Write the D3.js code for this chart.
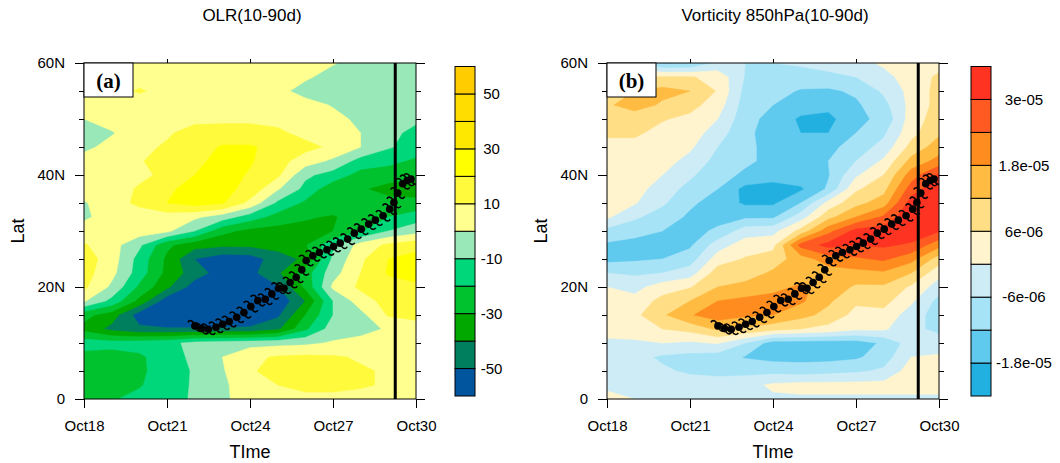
<!DOCTYPE html>
<html>
<head>
<meta charset="utf-8">
<script src="https://cdn.jsdelivr.net/npm/d3@7"></script>
<style>
  body { margin: 0; background: #fff; }
  svg { display: block; font-family: "Liberation Sans", Arial, Helvetica, sans-serif; }
</style>
</head>
<body>
<svg id="chart" width="1060" height="463"></svg>
<script>
// grid: days since Oct18 00Z (columns) x latitude (rows, north to south)
const gridDays = [0, 1, 2, 3, 4, 5, 6, 7, 8, 9, 10, 11, 12]
const gridLats = [60, 57.5, 55, 52.5, 50, 47.5, 45, 42.5, 40, 37.5, 35, 32.5, 30,
                  27.5, 25, 22.5, 20, 17.5, 15, 12.5, 10, 7.5, 5, 2.5, 0]

const timeTickDays = [0, 3, 6, 9, 12]
const timeTickLabels = ['Oct18', 'Oct21', 'Oct24', 'Oct27', 'Oct30']
const latMajor = [0, 20, 40, 60]
const latMajorLabels = ['0', '20N', '40N', '60N']
const latMinor = [5, 10, 15, 25, 30, 35, 45, 50, 55]

// OLR anomaly, W m-2
const olrLevels = [-50, -40, -30, -20, -10, 0, 10, 20, 30, 40, 50]
const olrColors = ['#00559e', '#007f5e', '#00a800', '#00c22e', '#00d67a', '#99e8b8',
                   '#ffff8f', '#fffa3c', '#ffff00', '#ffe800', '#ffdd00', '#ffcc00']
const olrBarLevels = [50, 30, 10, -10, -30, -50]
const olrBarLabels = ['50', '30', '10', '-10', '-30', '-50']
const olrGrid = [
  [  5,  5,  5,  5,  5,  5,  5,  5,  5,  1, -5, -5, -6],
  [  5,  5,  6,  6,  5,  5,  5,  4,  2, -5, -6, -6, -8],
  [  5,  6, 11,  7,  5,  5,  5,  4, -5, -6, -6, -6, -6],
  [  5,  5,  5,  5,  6,  6,  6,  5,  5, -1, -6, -7, -8],
  [  0,  5,  6,  7,  8,  8,  8,  7,  6,  4, -3, -7, -8],
  [ -5, -1,  7,  9, 13, 14, 14, 12,  7,  4,  0, -7,-13],
  [ -3,  4,  8, 11, 15, 21, 21, 17, 13,  8,  0, -9,-14],
  [  5,  6,  9, 15, 17, 24, 21, 14,  5, -2,-14,-17,-22],
  [  5,  6,  8, 12, 20, 24, 19, 12, -8,-14,-24,-26,-27],
  [  5,  6, 11, 18, 24, 23, 17,  1,-13,-27,-29,-33,-35],
  [ -1,  6, 12, 20, 24, 21,  7,-12,-22,-25,-26,-27,-27],
  [ -2,  5,  5,  5,  2, -5,-15,-24,-29,-31,-25,-20,-15],
  [  5,  6,  5,  2,-10,-27,-33,-34,-33,-30,-21,-10, -4],
  [ 11,  4, -8,-28,-36,-38,-38,-36,-31,-12,  4, 12, 16],
  [ 15,  5,-14,-32,-50,-56,-55,-45,-38, -8,  8, 20, 24],
  [ 14,  3,-15,-33,-45,-55,-53,-42,-25, -4, 10, 21, 24],
  [ 12, -2,-22,-38,-55,-58,-56,-51,-28,  2, 12, 16, 18],
  [  1,-13,-33,-56,-58,-58,-58,-58,-40,-10,  5, 14, 16],
  [-27,-35,-55,-60,-60,-60,-60,-52,-30,-10, -3, 11, 13],
  [-33,-43,-48,-49,-49,-49,-48,-42,-22, -5, -3,  1,  5],
  [-15,-16,-15,-13, -7, -5, -4, -3, -2,  1,  3,  4,  5],
  [-24,-25,-22,-14, -8,  0,  8, 11, 12, 11,  9,  6,  5],
  [-25,-26,-22,-15, -9, -1,  9, 13, 14, 13, 11,  9,  5],
  [-24,-25,-21,-14, -9, -2,  6, 10, 12, 12, 11,  9,  6],
  [-23,-21,-17,-13, -9, -2,  5,  7,  8,  8,  7,  6,  6]
]

// 850 hPa relative vorticity anomaly, in 1e-6 s-1
const vortLevels = [-18, -12, -6, 0, 6, 12, 18, 24, 30]
const vortColors = ['#22b0e0', '#5fc9ee', '#a7e3f7', '#cdecf6', '#fff4ce', '#ffde85',
                    '#ffbb42', '#ff8c1e', '#ff5a22', '#ff3322']
const vortBarLevels = [30, 18, 6, -6, -18]
const vortBarLabels = ['3e-05', '1.8e-05', '6e-06', '-6e-06', '-1.8e-05']
const vortGrid = [
  [ -2, -3,-13,-12.5, -5, -6, -6,  -5,  -3, -2,  1,  3,  4],
  [  2, 5.5, 6.5, 6.5,  4,-6.5, -8, -9, -8, -6, -2,  3,  7],
  [  9, 12, 14, 12, 5.5, -8,-10,-12.5,-13,-11, -5,  2,  8],
  [ 11, 15, 11,  8,  3, -9,-12, -15, -16,-13, -8,  2,  8],
  [  8,  8, 6.5, 4.5, 0,-10,-14, -19, -20,-13,-11,  3,  9],
  [  7,  7,  4,  3, -3,-11,-14, -18, -18,-12, -7,  4, 11],
  [  4,  4,  3,  1, -6,-11,-13.5,-15,-14, -9, -4,  8, 15],
  [  3, 3.5, 2.5, -2, -8,-11,-13.5,-13,-12, -6,  1, 14, 20],
  [  3,  3,  0, -5,-10,-13,-15, -14,-12.5,-1,  6, 21, 31],
  [  2, 2.5, -3, -8,-12,-20,-21, -19, -11,  5, 10, 27, 34],
  [  2, 0.5, -5,-11,-14.5,-19,-19,-12,  2, 10, 15, 33, 35],
  [  1, -5, -9,-13,-14,-13,-13,  -3,  10, 18, 25, 35, 35],
  [ -8,-10,-12,-14,-11, -3, -2,   8,  22, 32, 33, 34, 30.5],
  [-13,-14,-14,-13, -3,  3,  4,  26,  32, 30, 31, 29, 20],
  [-14,-13,-12, -9,  3, 6.5, 9,  15,  21, 23, 25, 20,  9],
  [ -6, -7, -6, -3,  9,  9, 13,  15,  15, 16, 17, 12,  2],
  [  0, -2,  3, 5.5, 12, 14, 16,  19,  16, 11, 11,  5, -3],
  [  2,  2,  8, 12, 18, 19.5, 20.5, 19, 13,  7,  8,  1, -8],
  [  3, 4.5, 11, 17.5, 21, 19, 18, 14,  10,  4,  4, -3, -9],
  [  2,  3,  6,  8, 13, 11,  8,   6,   4,  1,  1, -5, -7],
  [ -1, -1,  0, -1, 0.5, -6,-15, -15, -15,-15,-11, -3, -4],
  [ -3, -4, -7, -8, -9,-12.5,-14,-14, -14,-13, -9,  0,  1],
  [ -3, -4, -5, -7, -8, -8, -8,  -9,  -8, -7, -5,  3,  3],
  [-1.5,-3, -3, -3, -3, -2,  1,   2,   2,  2,  2,  2,  2],
  [  2,  0, -1, -1, -1, -1, -1,  -1,  -1, -1, -1, -1, -1]
]

// typhoon track, 6-hourly (days since Oct18, latitude)
const trackDay = [4.01, 4.25, 4.49, 4.77, 5.01, 5.25, 5.52, 5.78, 6.03, 6.28, 6.55, 6.79,
                  7.03, 7.23, 7.45, 7.67, 7.87, 8.03, 8.27, 8.51, 8.78, 9.02, 9.26, 9.53,
                  9.77, 10.02, 10.29, 10.53, 10.81, 11.05, 11.2, 11.34, 11.52, 11.68, 11.82]
const trackLat = [13.05, 12.57, 12.46, 12.81, 13.35, 13.83, 14.6, 15.43, 16.5, 17.58, 17.82, 18.77,
                  19.79, 19.79, 20.8, 21.75, 23.06, 24.73, 25.57, 26.16, 26.64, 27.23, 27.83, 28.55,
                  29.62, 30.33, 31.23, 31.94, 32.72, 33.9, 35.1, 36.77, 38.44, 39.03, 39.27]
const markDay = 11.25   // Oct29 06Z

const svg = d3.select('#chart')
svg.append('rect').attr('width', 1060).attr('height', 463).attr('fill', '#fff')

const plotTop = 63, plotBottom = 399, plotWidth = 332
const cbTop = 66.5, cbBottom = 396, cbWidth = 20

function styleAxis(sel) {
  sel.select('.domain').remove()
  sel.selectAll('line').attr('stroke', '#000').attr('stroke-width', 1)
  sel.selectAll('text').attr('font-size', 15).attr('fill', '#000')
    .attr('font-family', '"Liberation Sans", Arial, sans-serif')
}

function drawPanel(p) {
  const x = d3.scaleLinear().domain([gridDays[0], gridDays[gridDays.length - 1]])
    .range([p.left, p.left + plotWidth])
  const y = d3.scaleLinear().domain([0, 60]).range([plotBottom, plotTop])
  const g = svg.append('g')

  const nx = gridDays.length, ny = gridLats.length
  const dDay = gridDays[1] - gridDays[0], dLat = gridLats[0] - gridLats[1]
  // d3.contours puts value i at i + 0.5
  const proj = d3.geoTransform({
    point: function (gx, gy) {
      this.stream.point(x(gridDays[0] + (gx - 0.5) * dDay), y(gridLats[0] - (gy - 0.5) * dLat))
    }
  })
  const path = d3.geoPath(proj)

  const clipId = 'clip-' + p.id
  svg.append('clipPath').attr('id', clipId).append('rect')
    .attr('x', p.left).attr('y', plotTop)
    .attr('width', plotWidth).attr('height', plotBottom - plotTop)

  const field = g.append('g').attr('clip-path', `url(#${clipId})`)
  field.append('rect')
    .attr('x', p.left).attr('y', plotTop)
    .attr('width', plotWidth).attr('height', plotBottom - plotTop)
    .attr('fill', p.colors[0])

  const bands = d3.contours().size([nx, ny]).thresholds(p.levels)(p.grid.flat())
  field.selectAll('path.band').data(bands).join('path')
    .attr('class', 'band')
    .attr('d', path)
    .attr('fill', (d, i) => p.colors[i + 1])
    .attr('stroke', (d, i) => p.colors[i + 1])
    .attr('stroke-width', 0.5)

  // Oct29 line
  field.append('line')
    .attr('x1', x(markDay)).attr('x2', x(markDay))
    .attr('y1', plotTop).attr('y2', plotBottom)
    .attr('stroke', '#000').attr('stroke-width', 3)

  // typhoon symbols
  const marks = field.append('g').selectAll('g').data(d3.zip(trackDay, trackLat)).join('g')
    .attr('transform', d => `translate(${x(d[0])},${y(d[1])})`)
  marks.append('path')
    .attr('d', 'M-1.4,-3.2 C-3.2,-6 -6,-5.8 -7,-3.6 M1.4,3.2 C3.2,6 6,5.8 7,3.6')
    .attr('fill', 'none').attr('stroke', '#000').attr('stroke-width', 1.6)
  marks.append('circle').attr('r', 3.8).attr('fill', '#000')

  // frame
  g.append('rect')
    .attr('x', p.left).attr('y', plotTop)
    .attr('width', plotWidth).attr('height', plotBottom - plotTop)
    .attr('fill', 'none').attr('stroke', '#000').attr('stroke-width', 1)

  // axes
  g.append('g').attr('transform', `translate(0,${plotBottom})`)
    .call(d3.axisBottom(x).tickValues(timeTickDays)
      .tickFormat(d => timeTickLabels[timeTickDays.indexOf(d)])
      .tickSize(9).tickPadding(12))
    .call(styleAxis)
  g.append('g').attr('transform', `translate(0,${plotTop})`)
    .call(d3.axisTop(x).tickValues(timeTickDays.slice(1, -1)).tickFormat('').tickSize(4))
    .call(styleAxis)
  g.append('g').attr('transform', `translate(${p.left},0)`)
    .call(d3.axisLeft(y).tickValues(latMajor)
      .tickFormat(d => latMajorLabels[latMajor.indexOf(d)])
      .tickSize(9).tickPadding(10))
    .call(styleAxis)
  g.append('g').attr('transform', `translate(${p.left},0)`)
    .call(d3.axisLeft(y).tickValues(latMinor).tickFormat('').tickSize(5))
    .call(styleAxis)
  g.append('g').attr('transform', `translate(${p.left + plotWidth},0)`)
    .call(d3.axisRight(y).tickValues(latMajor).tickFormat('').tickSize(9))
    .call(styleAxis)
  g.append('g').attr('transform', `translate(${p.left + plotWidth},0)`)
    .call(d3.axisRight(y).tickValues(latMinor).tickFormat('').tickSize(5))
    .call(styleAxis)

  // panel label box
  g.append('rect')
    .attr('x', p.left).attr('y', plotTop).attr('width', 49).attr('height', 34)
    .attr('fill', '#fff').attr('stroke', '#000').attr('stroke-width', 1)
  g.append('text')
    .attr('x', p.left + 24.5).attr('y', plotTop + 25)
    .attr('text-anchor', 'middle')
    .attr('font-family', '"Liberation Serif", "Times New Roman", serif')
    .attr('font-weight', 'bold').attr('font-size', 21)
    .text(p.tag)

  // titles
  g.append('text')
    .attr('x', p.left + plotWidth / 2 + 2).attr('y', 21)
    .attr('text-anchor', 'middle').attr('font-size', 17)
    .text(p.title)
  g.append('text')
    .attr('x', p.left + plotWidth / 2).attr('y', 458)
    .attr('text-anchor', 'middle').attr('font-size', 18)
    .text('TIme')
  g.append('text')
    .attr('transform', `translate(${p.left - 60},${(plotTop + plotBottom) / 2}) rotate(-90)`)
    .attr('text-anchor', 'middle').attr('font-size', 18)
    .text('Lat')

  // colour bar
  const nb = p.colors.length
  const cb = d3.scaleLinear().domain([0, nb]).range([cbBottom, cbTop])
  const bar = g.append('g')
  bar.selectAll('rect').data(p.colors).join('rect')
    .attr('x', p.cbLeft).attr('width', cbWidth)
    .attr('y', (d, i) => cb(i + 1)).attr('height', (d, i) => cb(i) - cb(i + 1))
    .attr('fill', d => d).attr('stroke', '#000').attr('stroke-width', 1)
  bar.selectAll('text').data(p.barLevels).join('text')
    .attr('x', p.cbLabelX)
    .attr('y', d => cb(p.levels.indexOf(d) + 1))
    .attr('dy', '0.35em')
    .attr('text-anchor', 'middle').attr('font-size', 15)
    .text((d, i) => p.barLabels[i])
}

drawPanel({
  id: 'olr', left: 84, title: 'OLR(10-90d)', tag: '(a)',
  grid: olrGrid, levels: olrLevels, colors: olrColors,
  barLevels: olrBarLevels, barLabels: olrBarLabels,
  cbLeft: 455, cbLabelX: 491.5
})
drawPanel({
  id: 'vort', left: 607, title: 'Vorticity 850hPa(10-90d)', tag: '(b)',
  grid: vortGrid, levels: vortLevels, colors: vortColors,
  barLevels: vortBarLevels, barLabels: vortBarLabels,
  cbLeft: 971, cbLabelX: 1024
})
</script>
</body>
</html>
